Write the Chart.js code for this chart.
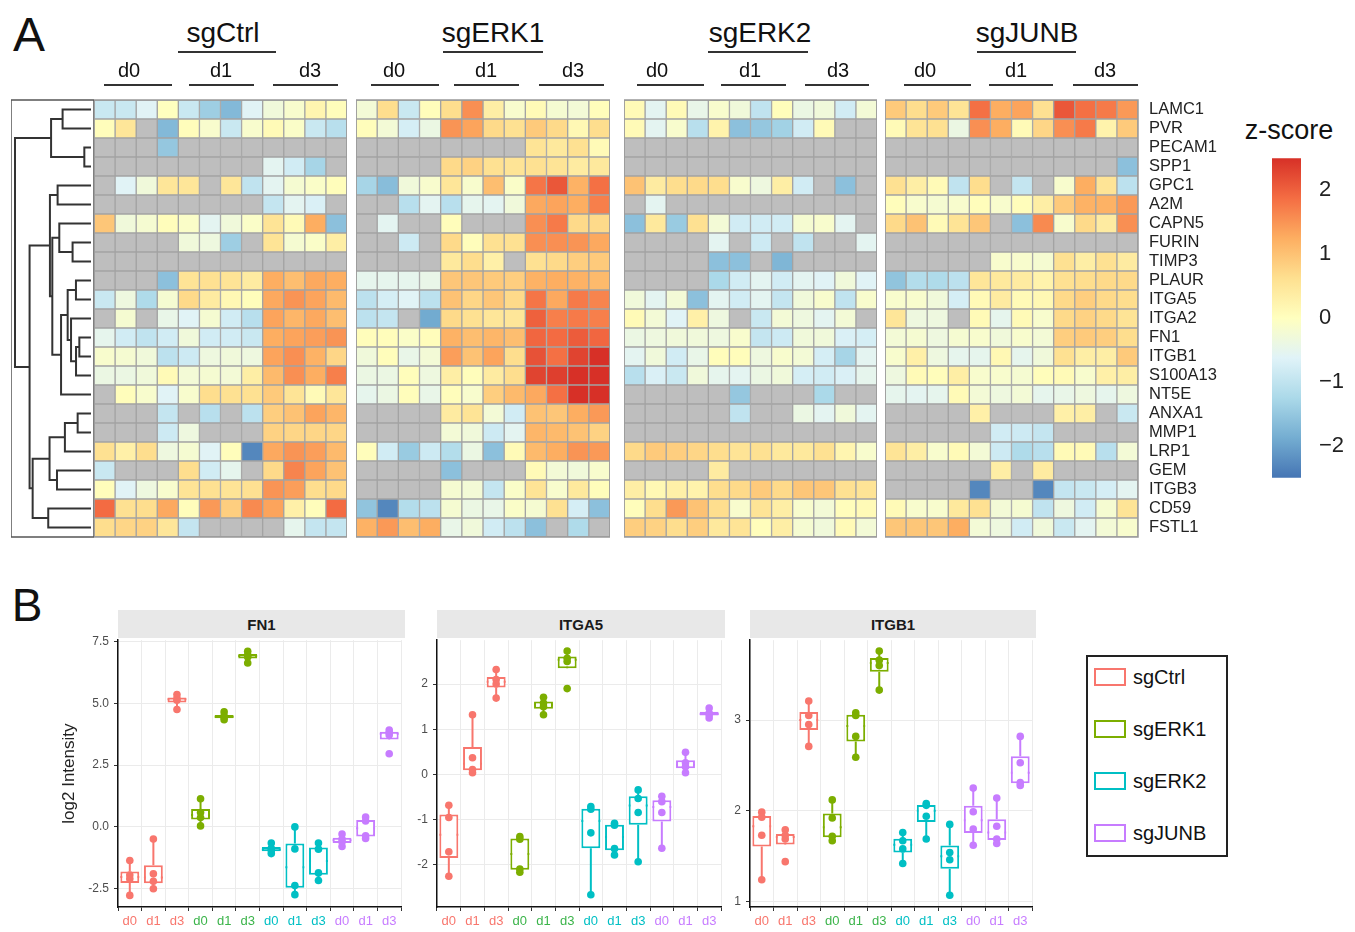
<!DOCTYPE html>
<html>
<head>
<meta charset="utf-8">
<script src="https://cdn.jsdelivr.net/npm/chart.js@4.4.0/dist/chart.umd.min.js"></script>
<style>
  html, body { margin: 0; padding: 0; background: #fff; }
  body { width: 1355px; height: 932px; position: relative; overflow: hidden;
         font-family: 'Liberation Sans', Arial, sans-serif; color: #111; }
  canvas { position: absolute; }
  .txt { position: absolute; white-space: nowrap; transform: translate(-50%, -50%); line-height: 1; }
  .rule { position: absolute; height: 0; border-top: 2.5px solid #333; }
  .strip { position: absolute; background: #e8e8e8; font-weight: bold; font-size: 15px;
           display: flex; align-items: center; justify-content: center; color: #1a1a1a; }
  .legend { position: absolute; left: 1086px; top: 655px; width: 138px; height: 198px;
            border: 2px solid #222; }
  .key { position: absolute; width: 28px; height: 14px; border: 2px solid; background: #fff; }
  .keytxt { position: absolute; font-size: 20px; line-height: 1; transform: translateY(-50%); }
</style>
</head>
<body>
<div class="txt" style="left:29px; top:35px; font-size:48px;">A</div>
<div class="txt" style="left:27px; top:605px; font-size:46px;">B</div>
<div class="txt" style="left:1289px; top:130px; font-size:27px;">z-score</div>
<div class="legend"></div>
<script>
// ---------------- data ----------------
const genes = ['LAMC1', 'PVR', 'PECAM1', 'SPP1', 'GPC1', 'A2M', 'CAPN5', 'FURIN', 'TIMP3', 'PLAUR',
  'ITGA5', 'ITGA2', 'FN1', 'ITGB1', 'S100A13', 'NT5E', 'ANXA1', 'MMP1', 'LRP1', 'GEM', 'ITGB3', 'CD59', 'FSTL1'];
const groups = ['sgCtrl', 'sgERK1', 'sgERK2', 'sgJUNB'];
const days = ['d0', 'd1', 'd3'];
const sampleCols = ['d0', 'd0', 'd0', 'd0', 'd1', 'd1', 'd1', 'd1', 'd3', 'd3', 'd3', 'd3'];
const _ = null; // not detected

// z-scores, one row per gene, 12 samples (d0 x4, d1 x4, d3 x4)
const zCtrl = [
  [-0.9, -0.9, -0.6, 0, -0.9, -1.4, -1.7, -0.6, -0.3, -0.15, 0.2, 0.05],
  [0.05, 0.5, _, -1.7, 0.05, -0.15, -0.9, -0.15, 0.1, -0.1, -0.9, -1.1],
  [_, _, _, -1.5, _, _, _, _, _, _, _, _],
  [_, _, _, _, _, _, _, _, -0.55, -0.8, -1.3, _],
  [_, -0.6, -0.3, 0.5, 0.5, _, 0.5, -1.0, -0.55, -0.2, -0.1, 0.05],
  [_, _, _, _, _, _, _, _, -0.95, -0.55, -0.7, _],
  [0.95, -0.3, -0.2, 0.05, -0.1, -0.55, -0.3, -0.1, 0.55, 0.1, 1.25, -1.6],
  [_, _, _, _, -0.3, -0.35, -1.4, _, 0.55, -0.2, -0.1, 0.35],
  [_, _, _, _, _, _, _, _, _, _, _, _],
  [_, _, _, -1.6, 0.55, 0.6, 0.55, 0.4, 1.25, 1.05, 1.3, 1.25],
  [-0.9, -0.35, -1.2, -0.2, 0.7, 0.4, 0.15, 0.05, 1.3, 1.5, 1.35, 1.1],
  [_, -0.2, _, -0.45, -0.6, -0.2, -0.8, -1.1, 1.35, 1.15, 1.3, 1.05],
  [-0.5, -0.8, -1.0, -0.8, -0.3, -0.8, -0.8, -0.9, 1.25, 1.35, 1.4, 1.5],
  [-0.15, -0.2, -0.3, -1.05, -0.85, -0.35, -0.3, -0.35, 1.35, 1.55, 1.2, 0.75],
  [-0.4, -0.4, -0.3, 0.1, -0.25, -0.2, -0.25, 0.35, 1.1, 1.55, 1.25, 1.7],
  [_, 0.05, -0.15, -0.6, -0.15, 0.65, 0.6, 0.6, 0.9, 0.55, 0.1, 0.5],
  [_, _, _, -0.95, _, -1.1, _, -1.05, 0.85, 1.0, 1.35, 1.15],
  [_, _, _, -0.85, -0.35, _, _, _, 0.8, 0.75, 0.75, 0.75],
  [0.6, 0.3, 0.65, -0.35, -0.2, -0.6, 0.05, -2.3, 1.3, 1.5, 1.4, 1.1],
  [-0.9, _, _, _, 0.65, -0.8, -0.5, _, 0.7, 1.65, 1.35, 1.0],
  [0.05, -0.6, -0.35, -0.15, 0.55, 0.6, 0.55, 0.6, 1.5, 1.4, 0.65, 0.7],
  [1.9, 0.6, 0.65, 1.3, 0.05, 1.45, 0.85, 1.6, 1.35, 0.3, 0.05, 1.9],
  [0.65, 0.75, 0.8, 0.5, -0.95, _, _, _, _, -0.5, -0.95, -0.95]
];
const zERK1 = [
  [-0.25, 0.65, -0.9, 0.05, 0.65, 1.55, 0.35, -0.15, 0.1, -0.2, -0.25, 0.05],
  [0.05, -0.25, -0.75, -0.4, 1.5, 1.35, 0.7, 0.6, 0.9, 0.7, 0.15, 0.65],
  [_, _, _, _, _, _, _, _, 0.55, 0.45, 0.6, 0.1],
  [_, _, _, _, 0.7, 0.8, 0.6, 0.55, 0.6, 0.55, 0.4, 0.45],
  [-1.3, -1.65, -0.3, -0.15, 0.5, -0.15, 1.05, -0.1, 1.8, 2.1, 1.2, 1.85],
  [_, _, -1.1, -0.55, -1.1, -0.5, -0.55, -0.3, 1.3, 1.35, 1.25, 1.7],
  [_, -0.55, _, _, 0.05, _, _, _, 1.55, 1.75, 0.7, 0.7],
  [_, _, -0.85, _, 0.7, 0.05, 0.6, 0.6, 1.55, 1.55, 1.5, 1.3],
  [_, _, _, _, 0.45, 0.65, 0.3, _, 0.6, 0.7, 0.85, 0.9],
  [-0.5, -0.5, -0.5, -0.45, 0.95, 0.95, 0.9, 0.85, 1.2, 1.25, 1.2, 1.1],
  [-1.05, -0.75, -0.6, -1.05, 1.0, 0.75, 0.95, 0.7, 1.8, 1.3, 1.75, 1.65],
  [-1.05, -0.95, _, -1.9, 0.7, 0.6, 0.5, 0.5, 2.0, 1.7, 1.75, 1.7],
  [0.05, 0.05, -0.1, 0.05, 1.2, 1.05, 1.15, 1.05, 1.95, 1.9, 2.05, 1.95],
  [-0.3, 0.05, -0.45, -0.25, 1.4, 1.0, 1.35, 0.65, 2.15, 1.85, 2.3, 2.5],
  [-0.4, -0.4, 0.05, -0.35, 0.35, 0.05, 0.4, 0.65, 2.3, 2.35, 2.55, 2.6],
  [-0.5, -0.4, 0.05, -0.45, 0.05, -0.15, 0.85, 1.1, 1.3, 1.85, 2.55, 2.6],
  [_, _, _, _, 0.4, 0.55, -0.25, -0.8, 1.0, 0.95, 1.25, 1.45],
  [_, _, _, _, -0.25, -0.3, -0.85, -0.55, 1.15, 1.1, 1.0, 0.8],
  [0.05, -0.8, -1.45, -0.85, -1.15, -0.4, -1.6, 0.1, 1.1, 1.25, 1.5, 1.45],
  [_, _, _, _, -1.6, _, _, _, 0.1, -0.25, -0.3, -0.15],
  [_, _, _, _, -0.2, -0.25, -0.95, -0.1, 0.55, -0.15, 0.45, 0.05],
  [-1.55, -2.3, -1.15, -1.05, -0.2, -0.4, -0.45, -0.1, -0.2, 0.6, -0.75, -1.6],
  [1.2, 1.45, 1.05, 1.25, -0.45, -0.3, -0.8, -1.05, -1.6, _, -1.2, _]
];
const zERK2 = [
  [0.1, -0.55, 0.1, -0.45, -0.15, -0.3, -1.0, 0.05, -0.4, -0.3, -0.8, -0.25],
  [0.1, -0.55, -0.15, -1.1, 0.25, -1.6, -1.5, -1.35, -0.8, 0.1, _, _],
  [_, _, _, _, _, _, _, _, _, _, _, _],
  [_, _, _, _, _, _, _, _, _, _, _, _],
  [1.0, 0.4, 0.65, 0.7, 0.65, -0.15, -0.35, 0.35, -0.8, _, -1.6, _],
  [_, -0.55, _, _, _, _, _, _, _, _, _, _],
  [-1.6, 0.45, -1.45, 0.6, -0.25, -0.8, -0.8, -0.8, -0.2, -0.15, -0.55, _],
  [_, _, _, _, -0.55, _, -0.85, _, -1.0, _, _, -0.55],
  [_, _, _, _, -1.6, -1.6, _, -1.75, _, _, _, _],
  [_, _, _, _, -1.25, -0.8, -0.55, -0.8, -0.55, -0.6, -0.3, -0.6],
  [-0.3, -0.55, -0.25, -1.6, -0.55, -0.8, -0.55, -0.95, -0.3, -0.15, -1.0, -0.15],
  [0.1, -0.25, -0.6, 0.3, -0.35, _, -0.9, -0.25, -0.35, -0.55, -0.25, _],
  [-0.4, -0.35, -0.3, -0.3, -0.35, -0.15, -0.95, -0.85, -0.3, -0.3, -0.7, -0.75],
  [-0.55, -0.3, -0.8, -0.45, 0.05, 0.05, -0.35, -0.15, -0.25, -0.75, -1.3, -0.55],
  [-1.1, -0.7, -0.9, -0.3, -0.5, -0.55, -0.4, -0.3, -0.75, -0.8, -0.7, -0.5],
  [_, _, _, _, _, -1.5, _, _, _, -1.25, _, _],
  [_, _, _, _, _, -1.0, _, _, -0.4, -0.55, -0.3, -0.55],
  [_, _, _, _, _, _, _, _, _, _, _, _],
  [0.7, 0.9, 0.85, 0.75, 0.65, 0.55, 0.6, 0.45, 0.45, 0.6, 0.2, -0.15],
  [_, _, _, _, 0.4, _, _, _, _, _, _, _],
  [0.35, 0.15, 0.3, 0.25, 0.65, 0.7, 0.9, 0.7, 0.95, 0.95, 0.6, 0.55],
  [0.05, 0.65, 1.45, 1.0, 0.65, -0.15, 0.55, 0.35, -0.15, -0.25, 0.05, 0.1],
  [0.85, 0.8, 0.65, 0.85, 0.45, 0.55, 0.05, 0.35, -0.2, -0.3, 0.1, -0.25]
];
const zJUNB = [
  [0.9, 0.65, 0.9, 0.55, 1.85, 1.25, 1.35, 0.6, 2.1, 1.85, 1.75, 1.45],
  [0.1, 0.55, 0.6, -0.4, 1.55, 1.25, 0.1, 0.75, 1.55, 1.75, 0.25, 0.9],
  [_, _, _, _, _, _, _, _, _, _, _, _],
  [_, _, _, _, _, _, _, _, _, _, _, -1.6],
  [0.6, 0.35, 0.1, -1.0, 0.65, _, -0.95, _, -0.15, 1.25, 0.55, -1.05],
  [0.05, -0.15, -0.2, -0.15, 0.05, -0.15, 0.05, 0.35, 0.9, 1.2, 1.2, 1.45],
  [0.7, 1.0, 0.1, 0.55, 0.95, _, -1.6, 1.6, -0.15, 0.7, 0.4, 1.55],
  [_, _, _, _, _, _, _, _, _, _, _, _],
  [_, _, _, _, _, -0.15, -0.15, -0.2, 0.6, 0.35, 0.6, 0.4],
  [-1.55, -1.15, -1.2, -1.05, 0.5, 0.45, 0.4, 0.25, 0.6, 0.65, 0.7, 0.7],
  [-0.15, -0.15, -0.3, -0.75, 0.1, 0.4, 0.1, 0.15, 0.7, 0.85, 0.7, 0.65],
  [0.5, -0.35, -0.35, _, 0.1, -0.5, 0.1, -0.15, 0.7, 0.8, 0.7, 0.55],
  [-0.25, -0.2, -0.35, -0.2, -0.15, -0.3, -0.15, -0.25, 0.85, 0.9, 0.85, 0.65],
  [-0.15, 0.3, -0.35, -0.5, -0.5, 0.15, -0.5, -0.3, 0.6, 0.35, 0.35, 0.9],
  [-0.35, 0.1, 0.05, 0.35, -0.15, -0.15, -0.2, 0.05, 0.1, -0.15, 0.3, 0.35],
  [-0.5, -0.55, -0.5, 0.1, -0.25, -0.35, -0.25, -0.5, -0.45, -0.35, -0.5, -0.35],
  [_, _, _, _, 0.3, _, _, _, 0.3, 0.35, _, -0.9],
  [_, _, _, _, _, -0.8, -0.85, -0.95, _, _, _, _],
  [0.55, 0.35, -0.15, 0.1, -0.25, -0.85, -1.2, -1.1, 0.1, 0.1, -1.1, -0.25],
  [_, _, _, _, _, 0.35, _, 0.4, _, _, _, _],
  [_, _, _, _, -2.3, _, _, -2.3, -0.95, -0.9, -0.75, -0.55],
  [0.1, -0.15, -0.15, 0.45, 0.6, -0.25, -0.2, -1.0, -0.35, -0.8, -0.2, 0.55],
  [0.95, 0.95, 0.95, 1.25, -0.25, -0.35, -0.8, -0.3, -0.9, -0.55, -0.25, -0.15]
];

// row dendrogram, hclust style: negative = leaf (row number), positive = earlier merge
const dendroMerges = [
  [-1, -2, 37], [-3, -4, 8.7], [1, 2, 52],
  [-5, -6, 43.5], [-8, -9, 24], [-7, 5, 41.3], [-10, -11, 19.6],
  [-13, -14, 15.2], [8, -15, 19.5], [-12, 9, 26], [7, 10, 30.4], [11, -16, 39],
  [6, 12, 50.4], [4, 13, 53.5],
  [-17, -18, 17.4], [15, -19, 34], [-20, -21, 44.3], [16, 17, 54], [-22, -23, 55.7],
  [18, 19, 76], [14, 20, 80], [3, 21, 99]
];

const zTicks = [-2, -1, 0, 1, 2];

// panel B: log2 intensity, 4 replicates per group/day
const boxLabels = ['d0', 'd1', 'd3', 'd0', 'd1', 'd3', 'd0', 'd1', 'd3', 'd0', 'd1', 'd3'];
const fn1Pts = [
  [-1.36, -1.95, -2.1, -2.77], [-0.49, -1.9, -2.2, -2.5], [5.35, 5.2, 5.12, 4.75],
  [1.14, 0.58, 0.38, 0.04], [4.65, 4.48, 4.42, 4.33], [7.1, 6.95, 6.87, 6.63],
  [-0.65, -0.87, -0.95, -1.08], [0, -0.89, -2.37, -2.74], [-0.65, -0.9, -1.86, -2.17],
  [-0.29, -0.49, -0.6, -0.79], [0.4, 0.24, -0.36, -0.47], [3.92, 3.82, 3.72, 2.96]
];
const itga5Pts = [
  [-0.68, -0.95, -1.71, -2.25], [1.32, 0.37, 0.11, 0.04], [2.32, 2.1, 2.0, 1.69],
  [-1.37, -1.43, -2.09, -2.16], [1.71, 1.58, 1.5, 1.32], [2.73, 2.57, 2.5, 1.9],
  [-0.71, -0.77, -1.29, -2.66], [-1.08, -1.12, -1.64, -1.78], [-0.34, -0.53, -0.84, -1.93],
  [-0.48, -0.6, -0.84, -1.63], [0.49, 0.26, 0.17, 0.04], [1.47, 1.36, 1.32, 1.25]
];
const itgb1Pts = [
  [1.985, 1.93, 1.73, 1.24], [1.79, 1.73, 1.69, 1.44], [3.21, 3.05, 2.95, 2.71],
  [2.12, 1.92, 1.72, 1.67], [3.08, 3.05, 2.82, 2.59], [3.76, 3.66, 3.6, 3.33],
  [1.76, 1.67, 1.58, 1.42], [2.08, 2.06, 1.94, 1.69], [1.85, 1.54, 1.46, 1.07],
  [2.25, 1.99, 1.8, 1.62], [2.14, 1.83, 1.69, 1.64], [2.82, 2.53, 2.31, 2.28]
];
const fn1Ticks = [-2.5, 0, 2.5, 5, 7.5];
const itga5Ticks = [-2, -1, 0, 1, 2];
const itgb1Ticks = [1, 2, 3];

const groupColors = ['#F8766D', '#7CAE00', '#00BFC4', '#C77CFF'];
const labelColors = ['#F8766D', '#3BB44A', '#00BFC4', '#C77CFF'];

// ---------------- helpers ----------------
Chart.defaults.font.family = "'Liberation Sans', Arial, sans-serif";

const zStops = [
  [-2.5, [69, 117, 180]], [-1.875, [116, 173, 209]], [-1.25, [171, 217, 233]],
  [-0.625, [224, 243, 248]], [0, [255, 255, 191]], [0.625, [254, 224, 144]],
  [1.25, [253, 174, 97]], [1.875, [244, 109, 67]], [2.5, [215, 48, 39]]
];
function zColor(v) {
  if (v === null || v === undefined) return '#bebebe';
  v = Math.max(-2.5, Math.min(2.5, v));
  for (let i = 1; i < zStops.length; i++) {
    const [v1, c1] = zStops[i];
    const [v0, c0] = zStops[i - 1];
    if (v <= v1) {
      const t = (v - v0) / (v1 - v0);
      const c = c0.map((a, k) => Math.round(a + (c1[k] - a) * t));
      return `rgb(${c[0]},${c[1]},${c[2]})`;
    }
  }
  return 'rgb(215,48,39)';
}

function makeCanvas(left, top, w, h) {
  const c = document.createElement('canvas');
  c.width = w; c.height = h;
  c.style.left = left + 'px';
  c.style.top = top + 'px';
  document.body.appendChild(c);
  return c;
}

function addText(text, x, y, size, extra = '') {
  const d = document.createElement('div');
  d.className = 'txt';
  d.textContent = text;
  d.style.cssText = `left:${x}px; top:${y}px; font-size:${size}px; ${extra}`;
  document.body.appendChild(d);
}
function addRule(x0, x1, y) {
  const d = document.createElement('div');
  d.className = 'rule';
  d.style.cssText = `left:${x0}px; top:${y}px; width:${x1 - x0}px;`;
  document.body.appendChild(d);
}

const framePlugin = {
  id: 'frame',
  afterDatasetsDraw(chart, args, opts) {
    if (!opts.color) return;
    const { ctx, chartArea: a } = chart;
    ctx.save();
    ctx.strokeStyle = opts.color;
    ctx.lineWidth = opts.width || 1;
    ctx.strokeRect(a.left, a.top, a.right - a.left, a.bottom - a.top);
    ctx.restore();
  }
};

// ---------------- panel A: dendrogram ----------------
const nodeY = [], nodeH = [];
const dendroPts = [];
function nodePos(ref) {
  return ref < 0 ? { y: -ref - 0.5, h: 0 } : { y: nodeY[ref - 1], h: nodeH[ref - 1] };
}
dendroMerges.forEach(([a, b, h], k) => {
  const A = nodePos(a), B = nodePos(b);
  dendroPts.push({ x: A.h, y: A.y }, { x: h, y: A.y }, { x: h, y: B.y }, { x: B.h, y: B.y }, { x: null, y: null });
  nodeY[k] = (A.y + B.y) / 2;
  nodeH[k] = h;
});

new Chart(makeCanvas(11, 80, 83, 477), {
  type: 'scatter',
  data: {
    datasets: [{
      data: dendroPts, showLine: true, spanGaps: false, pointRadius: 0,
      borderColor: '#333', borderWidth: 2
    }]
  },
  options: {
    responsive: false, animation: false,
    layout: { padding: { top: 20, bottom: 20 } },
    plugins: { legend: { display: false }, tooltip: { enabled: false }, frame: { color: '#555', width: 1.5 } },
    scales: {
      x: { type: 'linear', reverse: true, min: -3.9, max: 104.2, display: false },
      y: { type: 'linear', reverse: true, min: 0, max: 23, display: false }
    }
  },
  plugins: [framePlugin]
});

// ---------------- panel A: heatmaps ----------------
const panels = [
  { z: zCtrl, left: 94, width: 253 },
  { z: zERK1, left: 356, width: 254 },
  { z: zERK2, left: 624, width: 253 },
  { z: zJUNB, left: 885, width: 253 }
];
panels.forEach((p, pi) => {
  const labelled = pi === panels.length - 1;
  const extra = labelled ? 110 : 0;
  new Chart(makeCanvas(p.left, 80, p.width + extra, 477), {
    type: 'bar',
    data: {
      labels: genes,
      datasets: sampleCols.map((_, j) => ({
        data: genes.map(() => [j, j + 1]),
        backgroundColor: ctx => zColor(p.z[ctx.dataIndex][j]),
        borderColor: '#a3a3a3', borderWidth: 1, borderSkipped: false,
        barPercentage: 1, categoryPercentage: 1, grouped: false
      }))
    },
    options: {
      indexAxis: 'y', responsive: false, animation: false,
      layout: { padding: { top: 20, bottom: 20 } },
      plugins: { legend: { display: false }, tooltip: { enabled: false }, frame: { color: '#999', width: 1.5 } },
      scales: {
        x: { type: 'linear', min: 0, max: 12, display: false },
        y: {
          display: labelled, position: 'right',
          grid: { display: false }, border: { display: false },
          ticks: { color: '#222', font: { size: 16.5 }, padding: 3, autoSkip: false },
          afterFit: s => { s.width = extra; }
        }
      }
    },
    plugins: [framePlugin]
  });
});

// header labels over the heatmaps
const groupLabelX = [223, 493, 760, 1027];
const groupRules = [[178, 276], [443, 543], [708, 808], [977, 1076]];
const dayLabelX = [[129, 221, 310], [394, 486, 573], [657, 750, 838], [925, 1016, 1105]];
const dayRules = [
  [[104, 172], [189, 254], [273, 338]], [[371, 439], [454, 519], [539, 604]],
  [[637, 704], [721, 786], [805, 869]], [[904, 971], [989, 1053], [1073, 1138]]
];
groups.forEach((g, gi) => {
  addText(g, groupLabelX[gi], 33, 28);
  addRule(groupRules[gi][0], groupRules[gi][1], 51);
  days.forEach((d, di) => {
    addText(d, dayLabelX[gi][di], 70, 20);
    addRule(dayRules[gi][di][0], dayRules[gi][di][1], 84);
  });
});

// colour bar
new Chart(makeCanvas(1272, 135, 84, 366), {
  type: 'bar',
  data: {
    labels: ['z'],
    datasets: [{
      data: [[-2.5, 2.5]], barPercentage: 1, categoryPercentage: 1,
      backgroundColor: ctx => {
        const { chart } = ctx;
        if (!chart.chartArea) return '#ccc';
        const y = chart.scales.y;
        const g = chart.ctx.createLinearGradient(0, y.getPixelForValue(-2.5), 0, y.getPixelForValue(2.5));
        zStops.forEach(([v, c]) => g.addColorStop((v + 2.5) / 5, `rgb(${c[0]},${c[1]},${c[2]})`));
        return g;
      }
    }]
  },
  options: {
    responsive: false, animation: false,
    layout: { padding: { top: 20, bottom: 20 } },
    plugins: { legend: { display: false }, tooltip: { enabled: false } },
    scales: {
      x: { display: false },
      y: {
        min: -2.5, max: 2.5, position: 'right',
        grid: { display: false }, border: { display: false },
        afterBuildTicks: s => { s.ticks = zTicks.map(v => ({ value: v })); },
        ticks: { color: '#222', font: { size: 22 }, padding: 10,
                 callback: v => (v < 0 ? '\u2212' + Math.abs(v) : String(v)) },
        afterFit: s => { s.width = 55; }
      }
    }
  }
});

// ---------------- panel B: box plots ----------------
function quantile(sorted, p) {
  const h = (sorted.length - 1) * p;
  const lo = Math.floor(h);
  const hi = Math.min(lo + 1, sorted.length - 1);
  return sorted[lo] + (h - lo) * (sorted[hi] - sorted[lo]);
}
function boxStats(vals) {
  const s = [...vals].sort((a, b) => a - b);
  const q1 = quantile(s, 0.25), med = quantile(s, 0.5), q3 = quantile(s, 0.75);
  const iqr = q3 - q1;
  const lo = Math.min(...s.filter(v => v >= q1 - 1.5 * iqr));
  const hi = Math.max(...s.filter(v => v <= q3 + 1.5 * iqr));
  return { q1, med, q3, lo, hi };
}

function boxPanel(cfg) {
  const stats = cfg.pts.map(boxStats);
  const colorOf = i => groupColors[Math.floor(i / 3)];
  const linePts = [], lineGroup = [];
  stats.forEach((s, i) => {
    const segs = [
      [{ x: i, y: s.q3 }, { x: i, y: s.hi }],
      [{ x: i, y: s.q1 }, { x: i, y: s.lo }],
      [{ x: i - 0.4, y: s.med }, { x: i + 0.4, y: s.med }]
    ];
    segs.forEach(seg => {
      linePts.push(...seg, { x: null, y: null });
      lineGroup.push(i, i, i);
    });
  });
  const dots = [], dotColors = [];
  cfg.pts.forEach((vals, i) => vals.forEach(v => { dots.push({ x: i, y: v }); dotColors.push(colorOf(i)); }));

  const top = 628, areaH = 268.7, xAxisH = 28;
  const canvas = makeCanvas(cfg.areaLeft - cfg.yWidth, top, cfg.yWidth + cfg.areaWidth, Math.round(10 + areaH + xAxisH));

  new Chart(canvas, {
    type: 'bar',
    data: {
      datasets: [
        {
          type: 'line', data: dots, showLine: false, order: 0,
          pointRadius: 3.8, pointBorderWidth: 0,
          pointBackgroundColor: dotColors, pointBorderColor: dotColors
        },
        {
          type: 'bar', order: 1,
          data: stats.map((s, i) => ({ x: i, y: [s.q1, s.q3] })),
          backgroundColor: '#fff', borderColor: stats.map((s, i) => colorOf(i)),
          borderWidth: 2, borderSkipped: false, barPercentage: 0.8, categoryPercentage: 1
        },
        {
          type: 'line', data: linePts, order: 2, spanGaps: false, pointRadius: 0,
          borderWidth: 2, borderColor: '#999',
          segment: { borderColor: ctx => colorOf(lineGroup[ctx.p0DataIndex]) }
        }
      ]
    },
    options: {
      responsive: false, animation: false,
      layout: { padding: { top: 10, right: 0, bottom: 0, left: 0 } },
      plugins: { legend: { display: false }, tooltip: { enabled: false } },
      scales: {
        x: {
          type: 'linear', min: -0.5, max: 11.5, offset: false,
          afterBuildTicks: s => { s.ticks = boxLabels.map((_, i) => ({ value: i })); },
          ticks: {
            autoSkip: false, maxRotation: 0, padding: 3, font: { size: 13 },
            callback: (v, i) => boxLabels[i],
            color: ctx => labelColors[Math.floor(ctx.index / 3)]
          },
          grid: { color: '#ebebeb', tickLength: 4, tickColor: '#333' },
          border: { color: '#111', width: 1.5 },
          afterFit: s => { s.height = xAxisH; }
        },
        y: {
          min: cfg.yMin, max: cfg.yMax,
          afterBuildTicks: s => { s.ticks = cfg.ticks.map(v => ({ value: v })); },
          ticks: { color: '#4d4d4d', font: { size: 12 }, padding: 5, callback: cfg.fmt },
          grid: { color: '#ebebeb', tickLength: 4, tickColor: '#333' },
          border: { color: '#111', width: 1.5 },
          title: {
            display: !!cfg.title, text: cfg.title, color: '#222',
            font: { size: 17 }, padding: { top: 4, bottom: 0 }
          },
          afterFit: s => { s.width = cfg.yWidth; }
        }
      }
    }
  });

  const strip = document.createElement('div');
  strip.className = 'strip';
  strip.textContent = cfg.name;
  strip.style.cssText = `left:${cfg.areaLeft}px; top:610px; width:${cfg.areaWidth}px; height:28px;`;
  document.body.appendChild(strip);
}

boxPanel({ name: 'FN1', pts: fn1Pts, ticks: fn1Ticks, yMin: -3.24, yMax: 7.55,
  areaLeft: 118, areaWidth: 287, yWidth: 63, title: 'log2 Intensity', fmt: v => v.toFixed(1) });
boxPanel({ name: 'ITGA5', pts: itga5Pts, ticks: itga5Ticks, yMin: -2.93, yMax: 2.97,
  areaLeft: 437, areaWidth: 288, yWidth: 30, fmt: v => String(v) });
boxPanel({ name: 'ITGB1', pts: itgb1Pts, ticks: itgb1Ticks, yMin: 0.94, yMax: 3.88,
  areaLeft: 750, areaWidth: 286, yWidth: 30, fmt: v => String(v) });

// legend for panel B
const legendY = [677, 729, 781, 833];
groups.forEach((g, gi) => {
  const k = document.createElement('div');
  k.className = 'key';
  k.style.cssText = `left:1094px; top:${legendY[gi] - 9}px; border-color:${groupColors[gi]};`;
  document.body.appendChild(k);
  const t = document.createElement('div');
  t.className = 'keytxt';
  t.textContent = g;
  t.style.cssText = `left:1133px; top:${legendY[gi]}px;`;
  document.body.appendChild(t);
});
</script>
</body>
</html>
